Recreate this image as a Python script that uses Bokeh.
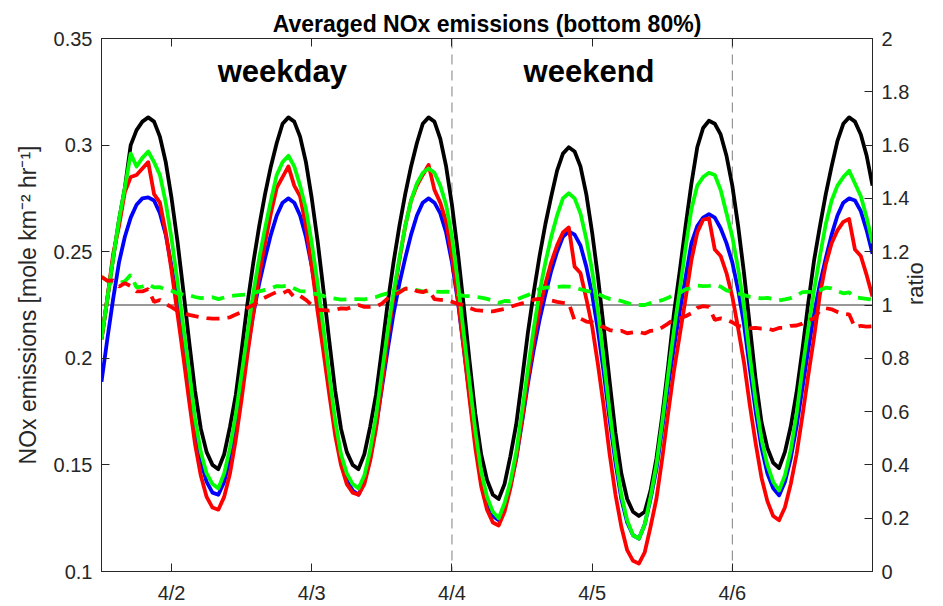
import numpy as np
from bokeh.plotting import figure
from bokeh.models import Range1d, LinearAxis, FixedTicker, Span, Label
from bokeh.embed import file_html
from bokeh.resources import INLINE

# ---------------- data (hourly, starting 4/1 12:00, ending 4/7 00:00) ----------------
start_day = 1.5  # day-of-April of the first sample (4/1 12:00)

black = [
    0.209, 0.228, 0.247, 0.265, 0.280, 0.300, 0.307, 0.311, 0.313, 0.311, 0.304, 0.292,
    0.275, 0.255, 0.232, 0.208, 0.185, 0.167, 0.156, 0.150, 0.148, 0.155, 0.168, 0.183,
    0.204, 0.226, 0.245, 0.262, 0.277, 0.290, 0.301, 0.310, 0.313, 0.311, 0.304, 0.292,
    0.275, 0.255, 0.232, 0.208, 0.185, 0.167, 0.156, 0.150, 0.148, 0.155, 0.168, 0.183,
    0.204, 0.226, 0.245, 0.262, 0.277, 0.290, 0.301, 0.310, 0.313, 0.311, 0.303, 0.290,
    0.272, 0.250, 0.225, 0.199, 0.174, 0.155, 0.143, 0.136, 0.134, 0.141, 0.154, 0.169,
    0.190, 0.212, 0.231, 0.248, 0.263, 0.276, 0.288, 0.296, 0.299, 0.297, 0.290, 0.277,
    0.259, 0.238, 0.214, 0.189, 0.165, 0.146, 0.134, 0.128, 0.126, 0.128, 0.138, 0.153,
    0.173, 0.196, 0.221, 0.241, 0.262, 0.282, 0.299, 0.308, 0.3114, 0.310, 0.305, 0.295,
    0.281, 0.262, 0.240, 0.215, 0.190, 0.170, 0.158, 0.151, 0.1485, 0.156, 0.168, 0.184,
    0.204, 0.226, 0.246, 0.262, 0.277, 0.290, 0.302, 0.310, 0.313, 0.311, 0.305, 0.295,
    0.281,
]

blue = [
    0.189, 0.209, 0.228, 0.245, 0.257, 0.266, 0.272, 0.275, 0.2755, 0.274, 0.268, 0.258,
    0.243, 0.226, 0.207, 0.187, 0.167, 0.152, 0.142, 0.137, 0.136, 0.142, 0.153, 0.168,
    0.186, 0.204, 0.221, 0.235, 0.247, 0.258, 0.267, 0.273, 0.275, 0.273, 0.267, 0.257,
    0.243, 0.226, 0.207, 0.187, 0.167, 0.152, 0.143, 0.138, 0.136, 0.142, 0.153, 0.168,
    0.186, 0.204, 0.221, 0.235, 0.247, 0.258, 0.267, 0.273, 0.275, 0.273, 0.268, 0.259,
    0.245, 0.227, 0.205, 0.183, 0.161, 0.143, 0.132, 0.126, 0.124, 0.130, 0.140, 0.153,
    0.170, 0.188, 0.204, 0.218, 0.230, 0.241, 0.250, 0.257, 0.2595, 0.258, 0.253, 0.243,
    0.230, 0.213, 0.193, 0.171, 0.151, 0.134, 0.123, 0.117, 0.1154, 0.122, 0.134, 0.148,
    0.167, 0.187, 0.205, 0.222, 0.238, 0.254, 0.262, 0.266, 0.2676, 0.266, 0.261, 0.254,
    0.245, 0.232, 0.216, 0.195, 0.175, 0.158, 0.146, 0.139, 0.1357, 0.142, 0.153, 0.168,
    0.186, 0.204, 0.221, 0.235, 0.247, 0.258, 0.267, 0.273, 0.275, 0.274, 0.269, 0.260,
    0.249,
]

green = [
    0.209, 0.228, 0.247, 0.265, 0.280, 0.296, 0.290, 0.294, 0.297, 0.292, 0.286, 0.273,
    0.256, 0.236, 0.215, 0.194, 0.172, 0.156, 0.146, 0.141, 0.139, 0.146, 0.158, 0.174,
    0.193, 0.212, 0.231, 0.247, 0.261, 0.274, 0.286, 0.292, 0.295, 0.290, 0.281, 0.270,
    0.254, 0.235, 0.214, 0.192, 0.171, 0.155, 0.146, 0.141, 0.139, 0.145, 0.157, 0.173,
    0.193, 0.213, 0.231, 0.247, 0.262, 0.274, 0.282, 0.287, 0.289, 0.287, 0.281, 0.272,
    0.257, 0.236, 0.212, 0.189, 0.166, 0.147, 0.135, 0.128, 0.125, 0.132, 0.142, 0.156,
    0.175, 0.195, 0.214, 0.231, 0.245, 0.257, 0.267, 0.275, 0.2774, 0.275, 0.268, 0.256,
    0.241, 0.222, 0.199, 0.175, 0.154, 0.136, 0.124, 0.117, 0.1154, 0.122, 0.135, 0.150,
    0.170, 0.192, 0.213, 0.232, 0.252, 0.270, 0.281, 0.285, 0.287, 0.286, 0.279, 0.268,
    0.257, 0.242, 0.224, 0.201, 0.180, 0.162, 0.150, 0.142, 0.138, 0.145, 0.157, 0.174,
    0.195, 0.214, 0.232, 0.248, 0.263, 0.274, 0.281, 0.285, 0.288, 0.282, 0.276, 0.266,
    0.254,
]

red = [
    0.209, 0.228, 0.249, 0.262, 0.278, 0.285, 0.286, 0.289, 0.292, 0.277, 0.273, 0.259,
    0.241, 0.221, 0.201, 0.180, 0.160, 0.145, 0.135, 0.130, 0.129, 0.135, 0.146, 0.162,
    0.181, 0.202, 0.221, 0.239, 0.254, 0.268, 0.280, 0.285, 0.290, 0.281, 0.276, 0.262,
    0.243, 0.222, 0.203, 0.183, 0.164, 0.150, 0.141, 0.137, 0.136, 0.141, 0.152, 0.167,
    0.187, 0.209, 0.229, 0.246, 0.262, 0.274, 0.281, 0.286, 0.2907, 0.279, 0.273, 0.264,
    0.248, 0.228, 0.205, 0.181, 0.158, 0.140, 0.129, 0.123, 0.1216, 0.128, 0.139, 0.153,
    0.171, 0.190, 0.208, 0.223, 0.235, 0.245, 0.253, 0.259, 0.2614, 0.243, 0.240, 0.228,
    0.215, 0.197, 0.177, 0.155, 0.136, 0.121, 0.110, 0.105, 0.1037, 0.109, 0.121, 0.134,
    0.153, 0.174, 0.194, 0.211, 0.228, 0.246, 0.259, 0.265, 0.2657, 0.251, 0.248, 0.240,
    0.229, 0.214, 0.198, 0.178, 0.160, 0.144, 0.133, 0.126, 0.124, 0.130, 0.141, 0.155,
    0.173, 0.192, 0.210, 0.230, 0.244, 0.254, 0.260, 0.264, 0.2653, 0.251, 0.248, 0.239,
    0.229,
]

ratio_green = [
    1.106, 1.091, 1.083, 1.082, 1.089, 1.113, 1.066, 1.069, 1.078, 1.066, 1.067, 1.058,
    1.053, 1.044, 1.039, 1.037, 1.030, 1.026, 1.028, 1.029, 1.022, 1.028, 1.033, 1.036,
    1.038, 1.039, 1.045, 1.051, 1.057, 1.062, 1.071, 1.070, 1.073, 1.062, 1.052, 1.051,
    1.045, 1.040, 1.034, 1.027, 1.024, 1.020, 1.021, 1.022, 1.022, 1.021, 1.026, 1.030,
    1.038, 1.044, 1.045, 1.051, 1.061, 1.062, 1.056, 1.051, 1.051, 1.051, 1.049, 1.050,
    1.049, 1.040, 1.034, 1.033, 1.031, 1.028, 1.023, 1.016, 1.008, 1.015, 1.014, 1.020,
    1.029, 1.037, 1.049, 1.060, 1.065, 1.066, 1.068, 1.070, 1.069, 1.066, 1.059, 1.053,
    1.048, 1.042, 1.031, 1.023, 1.020, 1.015, 1.008, 1.000, 1.000, 1.000, 1.007, 1.014,
    1.018, 1.027, 1.039, 1.045, 1.059, 1.063, 1.073, 1.071, 1.072, 1.075, 1.069, 1.055,
    1.049, 1.043, 1.037, 1.031, 1.029, 1.025, 1.027, 1.022, 1.017, 1.021, 1.026, 1.036,
    1.048, 1.049, 1.050, 1.055, 1.065, 1.062, 1.052, 1.044, 1.047, 1.029, 1.026, 1.023,
    1.020,
]

ratio_red = [
    1.106, 1.091, 1.092, 1.069, 1.082, 1.071, 1.051, 1.051, 1.060, 1.011, 1.019, 1.004,
    0.992, 0.978, 0.971, 0.963, 0.958, 0.954, 0.951, 0.949, 0.949, 0.951, 0.954, 0.964,
    0.973, 0.990, 1.000, 1.017, 1.028, 1.039, 1.049, 1.044, 1.055, 1.029, 1.034, 1.019,
    1.000, 0.982, 0.981, 0.979, 0.982, 0.987, 0.986, 0.993, 1.000, 0.993, 0.993, 0.994,
    1.005, 1.025, 1.036, 1.047, 1.061, 1.062, 1.052, 1.048, 1.057, 1.022, 1.019, 1.019,
    1.012, 1.004, 1.000, 0.989, 0.981, 0.979, 0.977, 0.976, 0.981, 0.985, 0.993, 1.000,
    1.006, 1.011, 1.020, 1.023, 1.022, 1.017, 1.012, 1.008, 1.007, 0.942, 0.949, 0.938,
    0.935, 0.925, 0.917, 0.906, 0.901, 0.903, 0.894, 0.897, 0.899, 0.893, 0.903, 0.905,
    0.916, 0.930, 0.946, 0.950, 0.958, 0.969, 0.989, 0.996, 0.993, 0.944, 0.950, 0.945,
    0.935, 0.922, 0.917, 0.913, 0.914, 0.911, 0.911, 0.906, 0.914, 0.915, 0.922, 0.923,
    0.930, 0.941, 0.950, 0.979, 0.988, 0.984, 0.974, 0.967, 0.965, 0.916, 0.922, 0.919,
    0.920,
]

tick_days = [2, 3, 4, 5, 6]
tick_labels = ["4/2", "4/3", "4/4", "4/5", "4/6"]
left_ticks = [0.1, 0.15, 0.2, 0.25, 0.3, 0.35]
left_tick_labels = ["0.1", "0.15", "0.2", "0.25", "0.3", "0.35"]
right_ticks = [0, 0.2, 0.4, 0.6, 0.8, 1, 1.2, 1.4, 1.6, 1.8, 2]
right_tick_labels = ["0", "0.2", "0.4", "0.6", "0.8", "1", "1.2", "1.4", "1.6", "1.8", "2"]
weekend_bounds = [4, 6]
ratio_reference = 1
period_names = ["weekday", "weekend"]

for s in (black, blue, green, red, ratio_green, ratio_red):
    assert len(s) == len(black), len(s)

x = start_day + np.arange(len(black)) / 24.0

# ---------------- figure ----------------
FONT = "Liberation Sans"
AX = "#262626"

p = figure(width=943, height=606,
           x_range=Range1d(1.5, 7.0), y_range=Range1d(0.1, 0.35),
           output_backend="svg", toolbar_location=None,
           min_border_left=101, min_border_right=70,
           min_border_top=38, min_border_bottom=33,
           title="Averaged NOx emissions (bottom 80%)")
p.extra_y_ranges = {"ratio": Range1d(0, 2)}
p.xgrid.visible = False
p.ygrid.visible = False
p.outline_line_color = AX
p.outline_line_width = 1
p.background_fill_color = "white"
p.border_fill_color = "white"

p.title.align = "center"
p.title.text_font = FONT
p.title.text_font_size = "23px"
p.title.text_font_style = "bold"
p.title.text_color = "black"
p.title.standoff = 4


def style_axis(ax, size="20px"):
    ax.axis_line_color = AX
    ax.major_tick_line_color = AX
    ax.major_tick_in = 8
    ax.major_tick_out = 0
    ax.minor_tick_line_color = None
    ax.major_label_text_font = FONT
    ax.major_label_text_font_size = size
    ax.major_label_text_color = AX
    ax.axis_label_text_font = FONT
    ax.axis_label_text_font_style = "normal"
    ax.axis_label_text_color = AX


# bottom x axis
xa = p.xaxis[0]
style_axis(xa)
xa.ticker = FixedTicker(ticks=tick_days)
xa.major_label_overrides = dict(zip(tick_days, tick_labels))
xa.major_label_standoff = 10

# left y axis
ya = p.yaxis[0]
style_axis(ya)
ya.ticker = FixedTicker(ticks=left_ticks)
ya.major_label_overrides = dict(zip(left_ticks, left_tick_labels))
ya.major_label_standoff = 9
ya.axis_label = "NOx emissions [mole km\u207b\u00b2 hr\u207b\u00b9]"
ya.axis_label_text_font_size = "23px"
ya.axis_label_standoff = 10

# right ratio axis
ra = LinearAxis(y_range_name="ratio", axis_label="ratio")
style_axis(ra)
ra.ticker = FixedTicker(ticks=right_ticks)
ra.major_label_overrides = dict(zip(right_ticks, right_tick_labels))
ra.major_label_standoff = 9
ra.axis_label_text_font_size = "22px"
ra.axis_label_standoff = 3
if "axis_label_orientation" in ra.properties():
    ra.axis_label_orientation = np.pi / 2   # read bottom-to-top, as in the reference
p.add_layout(ra, "right")

# top axis (tick marks only, labels not drawn)
ta = LinearAxis()
style_axis(ta, size="1px")
ta.major_label_text_color = None
ta.ticker = FixedTicker(ticks=tick_days)
ta.major_label_standoff = 0
p.add_layout(ta, "above")

# reference lines
for b in weekend_bounds:
    p.add_layout(Span(location=b, dimension="height", line_color="#808080",
                      line_dash="10 6", line_width=1, level="underlay"))
p.add_layout(Span(location=ratio_reference, dimension="width", y_range_name="ratio",
                  line_color="#333333", line_width=1, level="underlay"))

# emission lines (left axis)
LW = 3.8
p.line(x, black, line_color="black", line_width=LW, line_join="round")
p.line(x, blue, line_color="#0000ff", line_width=LW, line_join="round")
p.line(x, red, line_color="#ff0000", line_width=LW, line_join="round")
p.line(x, green, line_color="#00ff00", line_width=LW, line_join="round")

# ratio lines (right axis)
p.line(x, ratio_green, y_range_name="ratio", line_color="#00ff00",
       line_width=LW, line_dash="13 8")
p.line(x, ratio_red, y_range_name="ratio", line_color="#ff0000",
       line_width=LW, line_dash="13 8")

# period labels
for name, xpos in zip(period_names, [2.79, 4.978]):
    p.add_layout(Label(x=xpos, y=0.3343, text=name, text_align="center",
                       text_baseline="middle", text_font=FONT,
                       text_font_size="31px", text_font_style="bold",
                       text_color="black"))

open("out.html", "w").write(file_html(p, INLINE))
